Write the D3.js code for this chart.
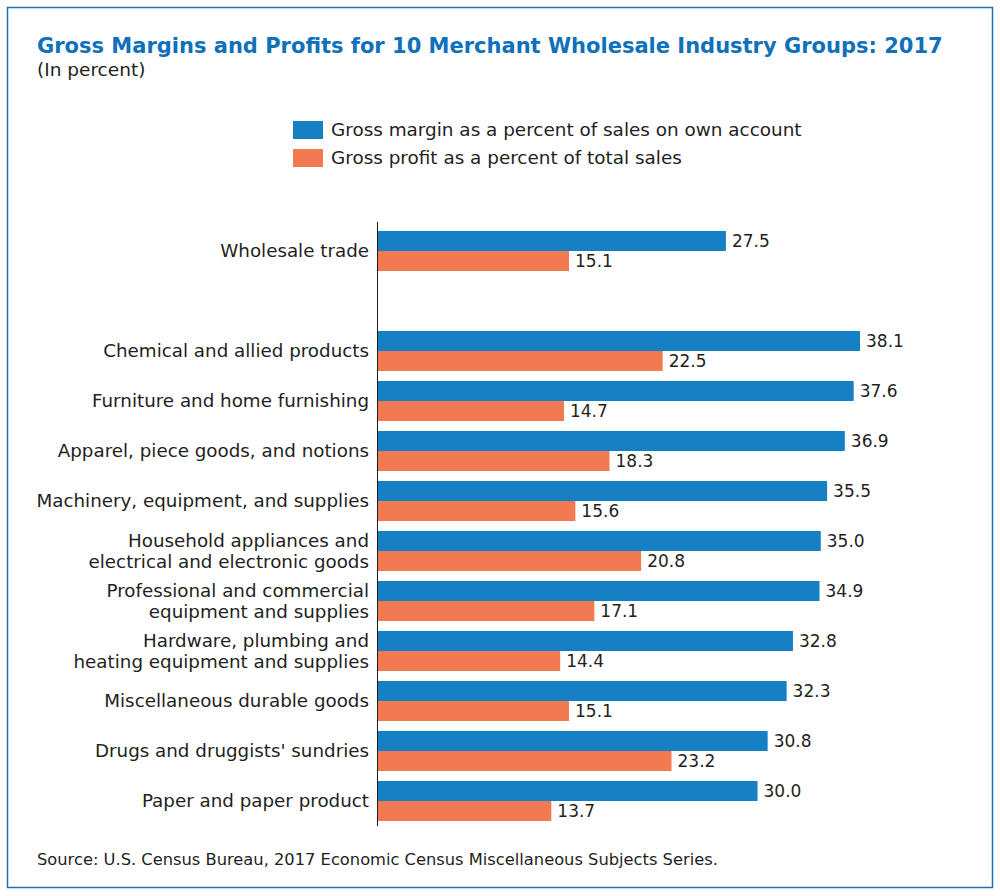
<!DOCTYPE html>
<html>
<head>
<meta charset="utf-8">
<script src="https://cdn.jsdelivr.net/npm/d3@7/dist/d3.min.js"></script>
<style>
  body { margin: 0; background: #fff; }
  svg { display: block; }
  text { font-family: "DejaVu Sans", sans-serif; fill: #231f20; }
</style>
</head>
<body>
<svg id="chart" width="1000" height="896"></svg>
<script>
// ---- data ----
const categories = [
  ["Wholesale trade"],
  [""],
  ["Chemical and allied products"],
  ["Furniture and home furnishing"],
  ["Apparel, piece goods, and notions"],
  ["Machinery, equipment, and supplies"],
  ["Household appliances and", "electrical and electronic goods"],
  ["Professional and commercial", "equipment and supplies"],
  ["Hardware, plumbing and", "heating equipment and supplies"],
  ["Miscellaneous durable goods"],
  ["Drugs and druggists' sundries"],
  ["Paper and paper product"]
];
const grossMargin = [27.5, null, 38.1, 37.6, 36.9, 35.5, 35.0, 34.9, 32.8, 32.3, 30.8, 30.0];
const grossProfit = [15.1, null, 22.5, 14.7, 18.3, 15.6, 20.8, 17.1, 14.4, 15.1, 23.2, 13.7];
const seriesNames = [
  "Gross margin as a percent of sales on own account",
  "Gross profit as a percent of total sales"
];
const colors = ["#1580c4", "#f27a50"];
const title = "Gross Margins and Profits for 10 Merchant Wholesale Industry Groups: 2017";
const subtitle = "(In percent)";
const source = "Source: U.S. Census Bureau, 2017 Economic Census Miscellaneous Subjects Series.";

// ---- drawing ----
const svg = d3.select("#chart");

svg.append("rect")
  .attr("x", 7.5).attr("y", 7.5).attr("width", 985).attr("height", 880)
  .attr("fill", "none").attr("stroke", "#1f6fb2").attr("stroke-width", 1.5);

svg.append("text").attr("x", 37).attr("y", 53)
  .style("font-size", "21px").style("font-weight", "bold").style("fill", "#0f70bb")
  .text(title);
svg.append("text").attr("x", 37).attr("y", 76)
  .style("font-size", "18.5px").text(subtitle);

// legend
const legend = svg.append("g");
seriesNames.forEach((name, i) => {
  const g = legend.append("g").attr("transform", `translate(293, ${121 + i * 28})`);
  g.append("rect").attr("width", 30).attr("height", 18).attr("fill", colors[i]);
  g.append("text").attr("x", 38).attr("y", 9).attr("dy", "0.35em")
    .style("font-size", "18.4px").text(name);
});

const keys = categories.map((c, i) => i);
const y = d3.scaleBand().domain(keys).range([226, 826]).paddingInner(0.2).paddingOuter(0.1);
const x = d3.scaleLinear().domain([0, 38.1]).range([378, 860]);
const sub = d3.scaleBand().domain([0, 1]).range([0, y.bandwidth()]);

const rows = svg.append("g").selectAll("g").data(keys.filter(i => grossMargin[i] != null))
  .join("g").attr("transform", i => `translate(0, ${y(i)})`);

[grossMargin, grossProfit].forEach((vals, s) => {
  rows.append("rect")
    .attr("x", x(0)).attr("y", sub(s))
    .attr("width", i => x(vals[i]) - x(0))
    .attr("height", sub.bandwidth())
    .attr("fill", colors[s]);
  rows.append("text")
    .attr("x", i => x(vals[i]) + 6)
    .attr("y", sub(s) + sub.bandwidth() / 2).attr("dy", "0.35em")
    .style("font-size", "17px")
    .text(i => vals[i].toFixed(1));
});

// category labels
rows.append("text")
  .attr("text-anchor", "end")
  .style("font-size", "18.3px")
  .each(function(i) {
    const lines = categories[i];
    const t = d3.select(this);
    const mid = y.bandwidth() / 2;
    const lh = 21;
    lines.forEach((ln, k) => {
      t.append("tspan").attr("x", 369)
        .attr("y", mid + (k - (lines.length - 1) / 2) * lh)
        .attr("dy", "0.35em").text(ln);
    });
  });

// axis line
svg.append("line").attr("x1", x(0) - 0.5).attr("x2", x(0) - 0.5)
  .attr("y1", 222).attr("y2", 826)
  .attr("stroke", "#231f20").attr("stroke-width", 1);

svg.append("text").attr("x", 37).attr("y", 865)
  .style("font-size", "16.3px").text(source);
</script>
</body>
</html>
